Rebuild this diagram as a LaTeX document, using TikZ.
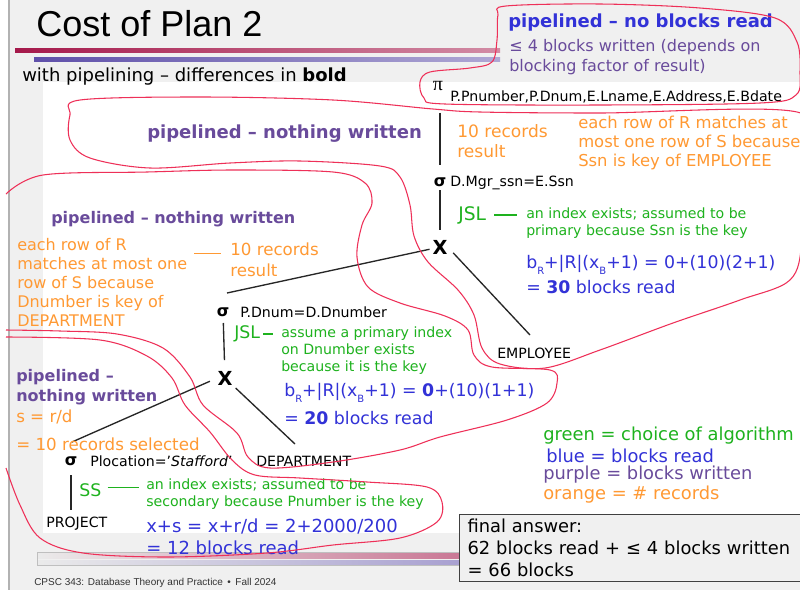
\documentclass[tikz,border=0pt]{standalone}
\usepackage{fontspec}
\setmainfont{DejaVu Sans}
\newfontfamily\slidefont{Liberation Sans}
\newfontfamily\greekserif{Liberation Serif}

\definecolor{slidegray}{RGB}{240,240,240}
\definecolor{annOrange}{RGB}{255,153,51}
\definecolor{annGreen}{RGB}{30,178,30}
\definecolor{annBlue}{RGB}{50,50,215}
\definecolor{annPurple}{RGB}{105,75,155}
\definecolor{penRed}{RGB}{238,48,88}
\definecolor{barRed}{RGB}{165,25,75}
\definecolor{barBlue}{RGB}{95,80,170}

\newcommand\fsz[2]{\fontsize{#1}{#2}\selectfont}
\newcommand\lowsub[1]{\raisebox{-0.6ex}{\fsz{7.5}{8}#1}}

\begin{document}
\begin{tikzpicture}[
        x=0.75pt, y=-0.75pt,
        txt/.style={inner sep=0pt, anchor=west, align=left},
        orangetxt/.style={txt, text=annOrange},
        greentxt/.style={txt, text=annGreen},
        bluetxt/.style={txt, text=annBlue},
        purpletxt/.style={txt, text=annPurple},
        lbl/.style={inner sep=0pt, anchor=west, font=\fsz{10.6}{12}},
        opsym/.style={inner sep=0pt, font=\bfseries\fsz{12}{12}},
        joinsym/.style={inner sep=0pt, font=\bfseries\fsz{14.5}{14.5}},
        treeline/.style={line width=1pt, black!85},
        penline/.style={penRed, line width=0.8pt},
        ]

  \useasboundingbox (0,0) rectangle (800,590);
  \clip (0,0) rectangle (800,590);

  % slide background ----------------------------------------
  \fill[slidegray] (0,0) rectangle (800,590);
  \fill[white] (0,0) rectangle (8,590);
  \draw[black!30, line width=0.8pt] (9,0) -- (9,590);
  \fill[white] (43,82) rectangle (800,533);
  \shade[left color=barRed, right color=barRed!50] (15,48) rectangle (500,52);
  \shade[left color=barBlue, right color=barBlue!50] (34,57) rectangle (500,61);
  \shade[left color=black!8, right color=barRed!60] (37,553) rectangle (470,558);
  \shade[left color=black!8, right color=barBlue!55] (37,560) rectangle (470,564);
  \draw[black!25, line width=0.4pt] (37,552) rectangle (470,565);

  % headings -------------------------------------------------
  \node[txt, font=\slidefont\fsz{27}{30}] (title) at (36,24) {Cost of Plan 2};
  \node[txt, font=\fsz{13.5}{16}] (subtitle) at (22,77)
        {with pipelining – differences in \textbf{bold}};
  \node[txt, font=\slidefont\fsz{7.5}{9}, text=black!80] (footer) at (34,583)
        {CPSC 343: Database Theory and Practice \,•\, Fall 2024};

  % query tree -----------------------------------------------
  \node[inner sep=0pt, font=\greekserif\fsz{15}{15}] (pi) at (438,86) {π};
  \node[lbl] (piArgs) at (450,97) {P.Pnumber,P.Dnum,E.Lname,E.Address,E.Bdate};
  \node[opsym] (selB) at (440,182) {σ};
  \node[lbl] (selBArgs) at (450,183) {D.Mgr\_ssn=E.Ssn};
  \node[joinsym] (joinB) at (440,247) {X};
  \node[lbl] (emp) at (497,353) {EMPLOYEE};
  \node[opsym] (selA) at (223,312) {σ};
  \node[lbl] (selAArgs) at (240,312) {P.Dnum=D.Dnumber};
  \node[joinsym] (joinA) at (225,378) {X};
  \node[lbl] (dept) at (256,461) {DEPARTMENT};
  \node[opsym] (selP) at (71,461) {σ};
  \node[lbl] (selPArgs) at (90,461) {Plocation='\textit{Stafford}'};
  \node[lbl] (proj) at (46,524) {PROJECT};

  \draw[treeline, shorten <=20pt, shorten >=12.75pt] (selB |- pi) -- (selB.center);
  \draw[treeline, shorten <=6pt, shorten >=12.75pt] (selB.center) -- (joinB.center);
  \draw[treeline, shorten <=8pt] (joinB.center) -- ([shift={(4,-19)}]selA.center);
  \draw[treeline, shorten <=6pt] (joinB.east) -- ([shift={(33,-18)}]emp.west);
  \draw[treeline, shorten <=8.25pt, shorten >=13.5pt] (selA.center) -- (joinA.center);
  \draw[treeline, shorten <=11pt] (joinA.center) -- ([shift={(39,-17)}]dept.west);
  \draw[treeline, shorten <=6pt] (joinA.west) -- ([shift={(1,-19)}]selP.center);
  \draw[treeline, shorten <=10.5pt, shorten >=5pt] (selP.center) -- (selP.center |- proj.north);

  % annotations: top -----------------------------------------
  \node[txt, text=annBlue, font=\bfseries\fsz{13.5}{16}] (noRead) at (508,23)
        {pipelined – no blocks read};
  \node[purpletxt, font=\fsz{12}{15}] (fewWritten) at (509,57)
        {≤ 4 blocks written (depends on\\blocking factor of result)};
  \node[purpletxt, font=\bfseries\fsz{13.5}{16}] (pipeB) at (147,134)
        {pipelined – nothing written};
  \node[orangetxt, font=\fsz{12.8}{15}] (tenB) at (457,141) {10 records\\result};
  \node[orangetxt, font=\fsz{12.3}{14.3}] (rowB) at (578,143)
        {each row of R matches at\\most one row of S because\\Ssn is key of EMPLOYEE};
  \node[greentxt, font=\fsz{14}{14}] (jslB) at (458,215) {JSL};
  \node[greentxt, font=\fsz{10.6}{12.75}] (idxB) at (526,223.5)
        {an index exists; assumed to be\\primary because Ssn is the key};
  \node[bluetxt, font=\fsz{13}{18.75}] (costB) at (526,274.5)
        {b\lowsub{R}+|R|(x\lowsub{B}+1) = 0+(10)(2+1)\\= \textbf{30} blocks read};
  \draw[annGreen, line width=0.8pt, shorten <=6pt, shorten >=6.75pt]
        (jslB.east) -- (jslB.east -| idxB.west);

  % annotations: middle --------------------------------------
  \node[purpletxt, font=\bfseries\fsz{12}{15}] (pipeA) at (51,219)
        {pipelined – nothing written};
  \node[orangetxt, font=\fsz{12}{14.4}] (rowA) at (17,282.5)
        {each row of R\\matches at most one\\row of S because\\Dnumber is key of\\DEPARTMENT};
  \node[orangetxt, font=\fsz{12.5}{15.5}] (tenA) at (230,259.5) {10 records\\result};
  \coordinate (dashA) at (tenA.west -| rowA.east);
  \draw[annOrange, line width=1pt, shorten <=5pt, shorten >=6.75pt]
        ([yshift=4.5pt]dashA) -- ([yshift=4.5pt]tenA.west);
  \node[greentxt, font=\fsz{13}{13}] (jslA) at (234,334) {JSL};
  \node[greentxt, font=\fsz{10.6}{12.75}] (idxA) at (281,351)
        {assume a primary index\\on Dnumber exists\\because it is the key};
  \draw[annGreen, line width=0.8pt, shorten <=2.25pt, shorten >=6pt]
        (jslA.east) -- (jslA.east -| idxA.west);
  \node[bluetxt, font=\fsz{13}{21}] (costA) at (284,404)
        {b\lowsub{R}+|R|(x\lowsub{B}+1) = \textbf{0}+(10)(1+1)\\= \textbf{20} blocks read};

  % annotations: bottom --------------------------------------
  \node[purpletxt, font=\bfseries\fsz{12}{15}] (pipeP) at (16,387)
        {pipelined –\\nothing written};
  \node[orangetxt, font=\fsz{12.5}{21}] (sel) at (16,430) {s = r/d\\= 10 records selected};
  \node[greentxt, font=\fsz{13}{13}] (ss) at (79,490) {SS};
  \node[greentxt, font=\fsz{10.6}{12.75}] (idxP) at (146,494.5)
        {an index exists; assumed to be\\secondary because Pnumber is the key};
  \draw[annGreen, line width=0.8pt, shorten <=4.5pt, shorten >=5.25pt]
        ([yshift=2pt]ss.east) -- ([yshift=2pt]ss.east -| idxP.west);
  \node[bluetxt, font=\fsz{13.5}{16.5}] (costP) at (146,537)
        {x+s = x+r/d = 2+2000/200\\= 12 blocks read};

  % legend and answer ----------------------------------------
  \node[greentxt, font=\fsz{13.4}{15}] (keyGreen) at (543,436) {green = choice of algorithm};
  \node[bluetxt, font=\fsz{13.4}{15}] (keyBlue) at (546,456) {blue = blocks read};
  \node[purpletxt, font=\fsz{13.4}{15}] (keyPurple) at (543,475) {purple = blocks written};
  \node[orangetxt, font=\fsz{13.4}{15}] (keyOrange) at (543,495) {orange = \# records};
  \node[draw=black!75, fill=slidegray, line width=0.8pt, anchor=north west, align=left,
        inner xsep=6pt, inner ysep=3.5pt, text width=252pt, font=\fsz{13.4}{16.5}]
        (final) at (459,514)
        {final answer:\\62 blocks read + ≤ 4 blocks written\\= 66 blocks};

  % hand-drawn loops -----------------------------------------
  \draw[penline] plot[smooth cycle, tension=0.55] coordinates {
        (506,6) (600,4) (700,8) (775,18) (797,42) (800,72) (796,95) (760,103)
        (600,105) (445,104) (424,98) (420,82) (430,72) (470,68) (492,62) (497,40) (498,15)};
  \draw[penline] plot[smooth cycle, tension=0.55] coordinates {
        (80,100) (200,97) (333,100) (433,109) (480,112) (600,113) (797,112)
        (803,160) (802,240) (790,280) (740,300) (673,323) (600,350) (545,368)
        (500,364) (482,348) (474,315) (458,290) (428,262) (414,236) (410,205)
        (400,177) (380,166) (300,161) (230,163) (150,168) (90,158) (70,140) (70,115)};
  \draw[penline] plot[smooth, tension=0.55] coordinates {
        (6,194) (43,175) (147,172) (233,170) (333,172) (365,183) (372,203)
        (362,225) (357,257) (368,287) (400,303) (445,316) (468,330) (474,355)
        (492,367) (550,370) (557,383) (547,403) (507,420) (440,437) (400,450)
        (333,462) (270,468) (248,457) (237,433) (203,405) (190,377) (163,348)
        (117,334) (60,331) (6,330)};
  \draw[penline] plot[smooth, tension=0.55] coordinates {
        (6,337) (100,340) (147,356) (172,378) (185,405) (210,432) (232,460)
        (255,475) (300,478) (367,482) (427,487) (442,502) (437,522) (400,538)
        (333,545) (267,553) (167,557) (83,553) (40,538) (20,505) (6,468)};

\end{tikzpicture}
\end{document}
